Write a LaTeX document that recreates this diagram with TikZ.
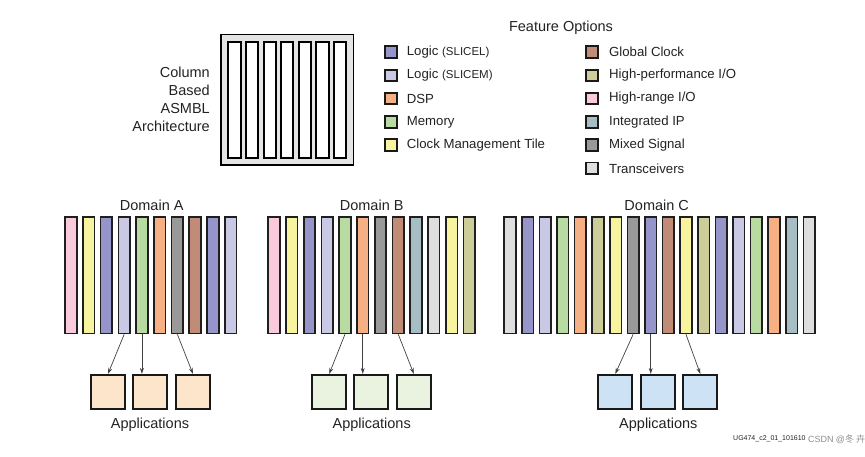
\documentclass[tikz,border=0pt]{standalone}
\usepackage{fontspec}
\setmainfont{Liberation Sans}
\newfontfamily\cjk{Noto Sans CJK SC}
\usetikzlibrary{arrows.meta}
\definecolor{sl}{HTML}{9595C9}
\definecolor{sm}{HTML}{C9C8E5}
\definecolor{dsp}{HTML}{F6B084}
\definecolor{mem}{HTML}{B7DBA1}
\definecolor{cmt}{HTML}{F7F39E}
\definecolor{gc}{HTML}{C18C76}
\definecolor{hp}{HTML}{CDCD9A}
\definecolor{hr}{HTML}{F8CADB}
\definecolor{iip}{HTML}{A5BDC3}
\definecolor{mix}{HTML}{999999}
\definecolor{tr}{HTML}{DEDEDE}
\definecolor{appA}{HTML}{FCE5CB}
\definecolor{appB}{HTML}{EAF3E0}
\definecolor{appC}{HTML}{CDE2F4}
\definecolor{archgray}{HTML}{E4E4E4}
\definecolor{txt}{HTML}{222222}
\begin{document}
\begin{tikzpicture}[x=1pt,y=-1pt,
  col/.style={draw=black!88, line width=1.7pt, minimum width=11.6pt, minimum height=116.6pt, inner sep=0pt},
  archcol/.style={draw=black, line width=2pt, fill=white, minimum width=12.3pt, minimum height=116.6pt, inner sep=0pt},
  app/.style={draw=black!90, line width=2pt, minimum size=34pt, inner sep=0pt},
  leg/.style={draw=black!90, line width=1.9pt, minimum size=11.5pt, inner sep=0pt},
  lbl/.style={font=\fontsize{14.5}{18}\selectfont, text=txt, inner sep=0pt},
  legtxt/.style={font=\fontsize{13.2}{15}\selectfont, text=txt, anchor=west, inner sep=0pt},
  conn/.style={-{Stealth[length=6pt,width=4pt]}, line width=0.7pt, draw=black!75}]
\useasboundingbox (0,0) rectangle (865,457);

% architecture block
\node[draw=black, line width=1.5pt, fill=archgray, minimum width=132.5pt, minimum height=130.5pt, inner sep=0pt] (arch) at (287,100) {};
\foreach \k in {0,...,6}
  \node[archcol] (arch\k) at ({234.45+\k*17.6},100) {};
\node[lbl, align=right, anchor=east] (archtxt) at (210,99) {Column\\Based\\ASMBL\\Architecture};

% legend
\node[lbl] (fo) at (561,28) {Feature Options};
\foreach \nm/\c/\y/\t in {l1/sl/52/{Logic {\fontsize{11.5}{13}\selectfont(SLICEL)}},
                          l2/sm/75.5/{Logic {\fontsize{11.5}{13}\selectfont(SLICEM)}},
                          l3/dsp/98.5/{DSP},
                          l4/mem/122/{Memory},
                          l5/cmt/145/{Clock Management Tile}}{
  \node[leg, fill=\c] (\nm) at (391,\y) {};
  \node[legtxt] (\nm t) at (406.7,\y) {\t};
}
\foreach \nm/\c/\y/\t in {r1/gc/52/{Global Clock},
                          r2/hp/75.5/{High-performance I/O},
                          r3/hr/98.5/{High-range I/O},
                          r4/iip/122/{Integrated IP},
                          r5/mix/145/{Mixed Signal},
                          r6/tr/168.3/{Transceivers}}{
  \node[leg, fill=\c] (\nm) at (592,\y) {};
  \node[legtxt] (\nm t) at (609,\y) {\t};
}

% domains
\node[lbl] (dA) at (151.7,205) {Domain A};
\node[lbl] (dB) at (371.7,205) {Domain B};
\node[lbl] (dC) at (656.7,205) {Domain C};
\foreach \c [count=\i] in {hr,cmt,sl,sm,mem,dsp,mix,gc,sl,sm}
  \node[col, fill=\c] (A\i) at ({70.95+(\i-1)*17.74},275.15) {};
\foreach \c [count=\i] in {hr,cmt,sl,sm,mem,dsp,mix,gc,iip,tr,cmt,hp}
  \node[col, fill=\c] (B\i) at ({273.95+(\i-1)*17.76},275.15) {};
\foreach \c [count=\i] in {tr,sl,sm,mem,dsp,hp,cmt,mix,sl,gc,cmt,hp,sl,sm,mem,dsp,iip,tr}
  \node[col, fill=\c] (C\i) at ({509.95+(\i-1)*17.6},275.15) {};

% applications
\foreach \x [count=\i] in {108,150,192.9}
  \node[app, fill=appA] (Aapp\i) at (\x,391.85) {};
\foreach \x [count=\i] in {329.2,371.3,413.8}
  \node[app, fill=appB] (Bapp\i) at (\x,391.85) {};
\foreach \x [count=\i] in {615.3,658.3,700.3}
  \node[app, fill=appC] (Capp\i) at (\x,391.85) {};
\node[lbl] (appsA) at (150,425) {Applications};
\node[lbl] (appsB) at (371.7,425) {Applications};
\node[lbl] (appsC) at (658.3,425) {Applications};

% connectors
\draw[conn] (A4.south) -- (Aapp1.north);
\draw[conn] (A5.south) -- (A5.south |- Aapp2.north);
\draw[conn] (A7.south) -- (Aapp3.north);
\draw[conn] (B5.south) -- (Bapp1.north);
\draw[conn] (B6.south) -- (B6.south |- Bapp2.north);
\draw[conn] (B8.south) -- (Bapp3.north);
\draw[conn] (C8.south) -- (Capp1.north);
\draw[conn] (C9.south) -- (C9.south |- Capp2.north);
\draw[conn] (C11.south) -- (Capp3.north);

% figure id / watermark
\node[font=\fontsize{7}{9}\selectfont, text=txt, anchor=west, inner sep=0pt] (fid) at (733,439) {UG474\_c2\_01\_101610};
\node[font=\fontsize{9}{11}\selectfont, text=black!45, anchor=west, inner sep=0pt] (wm) at ([xshift=2pt]fid.east) {CSDN @{\cjk 冬 卉}};
\end{tikzpicture}
\end{document}
